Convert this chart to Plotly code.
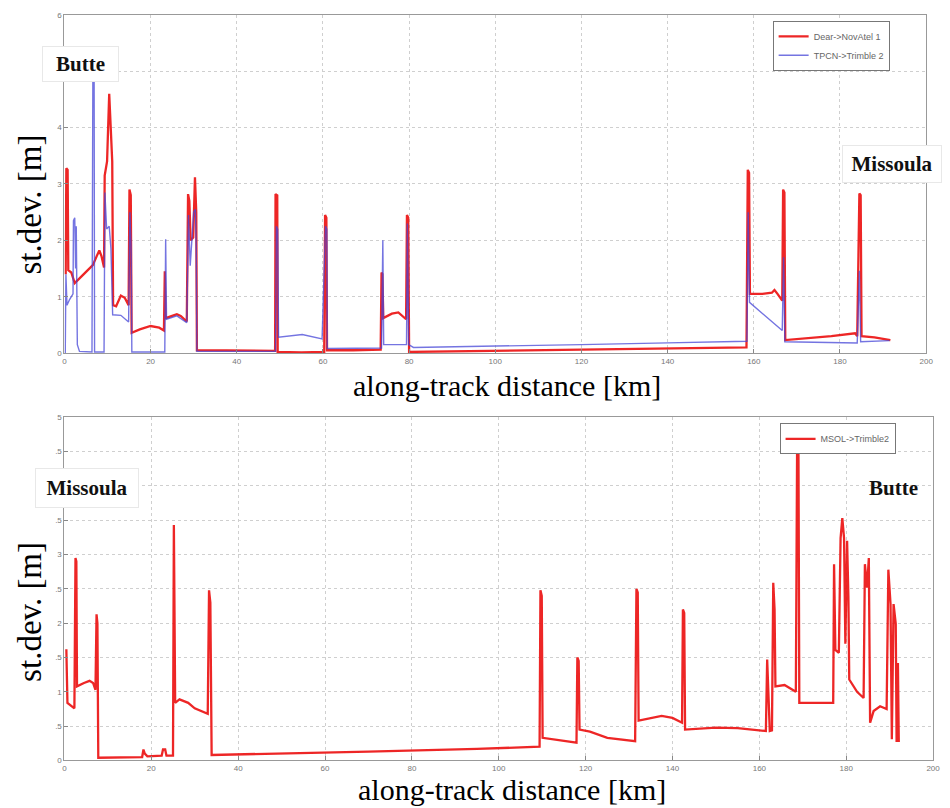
import plotly.graph_objects as go

# ---------------- data ----------------
top_red_km = [0.3, 0.45, 0.75, 0.9, 1.6, 2.4, 4.5, 6.6, 7.5, 8.1, 8.6, 9.2, 9.35, 9.9, 10.4, 10.8, 11.1, 11.3,
              12.0, 13.1, 14.0, 14.9, 15.1, 15.4, 15.6, 17.5, 20.0, 22.0, 23.1, 23.3, 23.5, 25.0, 26.1, 27.0,
              28.4, 28.7, 29.0, 29.3, 29.9, 30.3, 30.6, 30.75, 40.0, 48.9, 49.0, 49.4, 49.5, 55.0, 60.3, 60.5,
              60.8, 60.95, 67.0, 73.4, 73.6, 73.8, 74.0, 76.0, 77.5, 79.0, 79.3, 79.5, 79.8, 80.0, 100.0, 120.0,
              140.0, 158.3, 158.6, 158.9, 159.1, 162.0, 164.2, 164.8, 165.5, 166.6, 166.8, 167.1, 167.3, 172.0,
              178.0, 183.5, 184.0, 184.5, 184.8, 185.0, 188.0, 191.7]
top_red_sd = [1.40, 3.28, 3.25, 1.47, 1.43, 1.24, 1.40, 1.56, 1.72, 1.82, 1.72, 1.52, 3.15, 3.40, 4.60, 3.80, 3.40, 0.85,
              0.83, 1.02, 0.98, 0.85, 2.90, 2.80, 0.36, 0.42, 0.48, 0.45, 0.40, 1.45, 0.62, 0.66, 0.69, 0.66,
              0.56, 2.82, 2.70, 2.00, 2.05, 3.12, 2.50, 0.05, 0.04, 0.04, 2.82, 2.80, 0.02, 0.01, 0.02, 2.45,
              2.40, 0.05, 0.05, 0.06, 1.43, 1.40, 0.62, 0.70, 0.72, 0.62, 0.60, 2.45, 2.40, 0.02, 0.04, 0.06,
              0.08, 0.10, 3.25, 3.20, 1.05, 1.05, 1.07, 1.12, 1.05, 0.93, 2.90, 2.85, 0.23, 0.26,
              0.30, 0.35, 0.30, 2.83, 2.80, 0.30, 0.28, 0.23]

top_blue_km = [0.2, 0.35, 0.6, 1.2, 2.0, 2.1, 2.4, 2.6, 2.75, 3.0, 3.5, 6.4, 6.6, 6.9, 7.0, 9.2, 9.4, 9.8, 10.4,
               10.8, 11.2, 13.1, 14.9, 15.2, 15.5, 15.65, 23.3, 23.5, 23.7, 26.1, 28.4, 28.8, 29.2, 29.6, 30.0,
               30.4, 30.6, 30.75, 49.0, 49.2, 49.5, 49.7, 55.2, 59.8, 60.6, 60.9, 61.0, 73.6, 73.9, 74.1, 79.4,
               79.6, 79.9, 81.0, 100.0, 120.0, 140.0, 158.4, 158.7, 159.0, 166.6, 166.9, 167.2, 184.0, 184.5,
               184.8, 191.5]
top_blue_sd = [0.00, 1.40, 0.85, 0.95, 1.05, 2.35, 2.40, 1.50, 2.25, 0.15, 0.03, 0.02, 4.85, 4.85, 0.02, 0.02, 2.85, 2.20, 2.25,
               1.85, 0.68, 0.67, 0.55, 2.50, 1.80, 0.02, 0.02, 2.02, 0.60, 0.66, 0.54, 2.45, 1.55, 2.00, 2.50,
               2.55, 1.90, 0.03, 0.03, 2.25, 2.20, 0.28, 0.33, 0.25, 2.25, 2.20, 0.08, 0.09, 2.00, 0.15, 0.15,
               2.30, 0.15, 0.10, 0.12, 0.15, 0.18, 0.21, 2.50, 0.90, 0.40, 1.70, 0.20, 0.18, 1.46,
               0.20, 0.22]

bot_red_km = [0.45, 0.7, 2.3, 2.55, 2.75, 2.9, 4.5, 5.8, 6.6, 7.15, 7.4, 7.6, 7.8, 17.9, 18.2, 18.5, 19.1, 22.4,
              22.7, 23.2, 23.5, 25.0, 25.2, 25.35, 25.5, 26.5, 27.4, 28.5, 30.0, 33.0, 33.3, 33.6, 33.9, 50.0,
              70.0, 95.0, 109.4, 109.6, 109.9, 110.1, 114.0, 117.9, 118.1, 118.4, 118.6, 121.0, 125.0, 131.4,
              131.7, 132.0, 132.2, 135.0, 137.5, 140.0, 142.2, 142.4, 142.7, 142.9, 146.0, 150.0, 155.0, 161.5,
              161.8, 162.1, 162.4, 162.9, 163.2, 163.5, 163.7, 165.8, 168.4, 168.7, 169.0, 169.2, 177.0, 177.2,
              177.5, 178.3, 178.7, 179.1, 179.5, 179.8, 180.2, 180.5, 180.7, 182.5, 184.0, 184.3, 184.8, 185.2,
              185.5, 186.3, 187.8, 189.3, 189.7, 190.2, 190.5, 190.9, 191.4, 191.6, 191.9, 192.1]
bot_red_sd = [1.62, 0.84, 0.76, 2.95, 2.90, 1.08, 1.13, 1.16, 1.13, 1.03, 2.13, 2.00, 0.04, 0.05, 0.16, 0.10, 0.06, 0.07,
              0.16, 0.16, 0.07, 0.07, 3.43, 2.45, 0.84, 0.89, 0.87, 0.84, 0.76, 0.68, 2.48, 2.30, 0.08, 0.10,
              0.13, 0.17, 0.20, 2.48, 2.40, 0.33, 0.30, 0.26, 1.50, 1.45, 0.45, 0.42, 0.33, 0.28,
              2.50, 2.45, 0.58, 0.62, 0.65, 0.62, 0.55, 2.20, 2.15, 0.45, 0.46, 0.48, 0.47, 0.43,
              1.47, 0.94, 0.43, 0.44, 2.59, 2.20, 1.08, 1.10, 1.00, 4.66, 4.60, 0.84, 0.84, 2.86,
              1.61, 1.57, 3.24, 3.53, 3.24, 1.70, 3.20, 2.38, 1.18, 1.00, 0.91, 2.86, 2.52, 2.95,
              0.55, 0.72, 0.79, 0.75, 2.78, 2.28, 0.31, 2.28, 1.99, 0.27, 1.42, 0.27]

x_ticks = [0, 20, 40, 60, 80, 100, 120, 140, 160, 180, 200]
top_y_ticks = [0, 1, 2, 3, 4, 5, 6]
top_y_ticktext = ["0", "1", "2", "3", "4", "", "6"]          # "5" is hidden behind the Butte label
bot_y_ticks = [0, 0.5, 1, 1.5, 2, 2.5, 3, 3.5, 4, 4.5, 5]
bot_y_ticktext = ["0", ".5", "1", ".5", "2", ".5", "3", ".5", "", ".5", "5"]  # "4" hidden behind Missoula

# ---------------- figure ----------------
W, H = 950, 808
def px(x): return x / W
def py(y): return 1 - y / H

RED = "rgba(235,20,20,0.92)"
BLUE = "rgba(70,70,215,0.75)"

fig = go.Figure()
fig.add_trace(go.Scatter(x=top_red_km, y=top_red_sd, mode="lines", name="Dear->NovAtel 1",
                         line=dict(color=RED, width=2.3), xaxis="x", yaxis="y", legend="legend"))
fig.add_trace(go.Scatter(x=top_blue_km, y=top_blue_sd, mode="lines", name="TPCN->Trimble 2",
                         line=dict(color=BLUE, width=1.4), xaxis="x", yaxis="y", legend="legend"))
fig.add_trace(go.Scatter(x=bot_red_km, y=bot_red_sd, mode="lines", name="MSOL->Trimble2",
                         line=dict(color=RED, width=2.3), xaxis="x2", yaxis="y2", legend="legend2"))

tickfont = dict(family="Liberation Sans, Arial", size=8, color="#777")
axcommon = dict(showline=True, linecolor="#999", linewidth=1, mirror=True, ticks="inside",
                ticklen=4, tickcolor="#888", showgrid=True, gridcolor="#cfcfcf", griddash="dot",
                gridwidth=1, zeroline=False, tickfont=tickfont)

legfont = dict(family="Liberation Sans, Arial", size=9, color="#666")
fig.update_layout(
    width=W, height=H, margin=dict(l=0, r=0, t=0, b=0),
    paper_bgcolor="white", plot_bgcolor="white",
    xaxis=dict(domain=[px(63), px(933)], range=[0, 200], tickvals=x_ticks, anchor="y", **axcommon),
    yaxis=dict(domain=[py(353), py(11)], range=[0, 6], tickvals=top_y_ticks, ticktext=top_y_ticktext,
               anchor="x", **axcommon),
    xaxis2=dict(domain=[px(63), px(940)], range=[0, 200], tickvals=x_ticks, anchor="y2", **axcommon),
    yaxis2=dict(domain=[py(765), py(418)], range=[0, 5], tickvals=bot_y_ticks, ticktext=bot_y_ticktext,
                anchor="x2", **axcommon),
    legend=dict(x=px(778), y=py(17), xanchor="left", yanchor="top", bgcolor="white",
                bordercolor="#777", borderwidth=1, font=legfont, tracegroupgap=0, itemwidth=30),
    legend2=dict(x=px(785), y=py(424), xanchor="left", yanchor="top", bgcolor="white",
                 bordercolor="#777", borderwidth=1, font=legfont, itemwidth=30),
    showlegend=True,
)

serif = "Liberation Serif, Times New Roman, serif"
C = dict(xref="paper", yref="paper", xanchor="center", yanchor="middle", showarrow=False)
ann = []
# axis titles
ann.append(dict(text="along-track distance [km]", x=px(510), y=py(386),
                font=dict(family=serif, size=30, color="black"), **C))
ann.append(dict(text="along-track distance [km]", x=px(515), y=py(794),
                font=dict(family=serif, size=30, color="black"), **C))
ann.append(dict(text="st.dev. [m]", x=px(28), y=py(203), textangle=-90,
                font=dict(family=serif, size=33, color="black"), **C))
ann.append(dict(text="st.dev. [m]", x=px(28), y=py(615), textangle=-90,
                font=dict(family=serif, size=33, color="black"), **C))
# place labels
lab = dict(family=serif, size=21, color="#111")
ann.append(dict(text="<b>Butte</b>", x=px(79), y=py(61), font=lab, bgcolor="white",
                bordercolor="#e8e8e8", borderwidth=1, width=73, height=32, **C))
ann.append(dict(text="<b>Missoula</b>", x=px(899), y=py(162), font=lab, bgcolor="white",
                bordercolor="#e8e8e8", borderwidth=1, width=96, height=34, **C))
ann.append(dict(text="<b>Missoula</b>", x=px(86), y=py(489), font=lab, bgcolor="white",
                bordercolor="#e8e8e8", borderwidth=1, width=100, height=36, **C))
ann.append(dict(text="<b>Butte</b>", x=px(900), y=py(489), font=lab, **C))
fig.update_layout(annotations=ann)

fig.write_html("out.html")
